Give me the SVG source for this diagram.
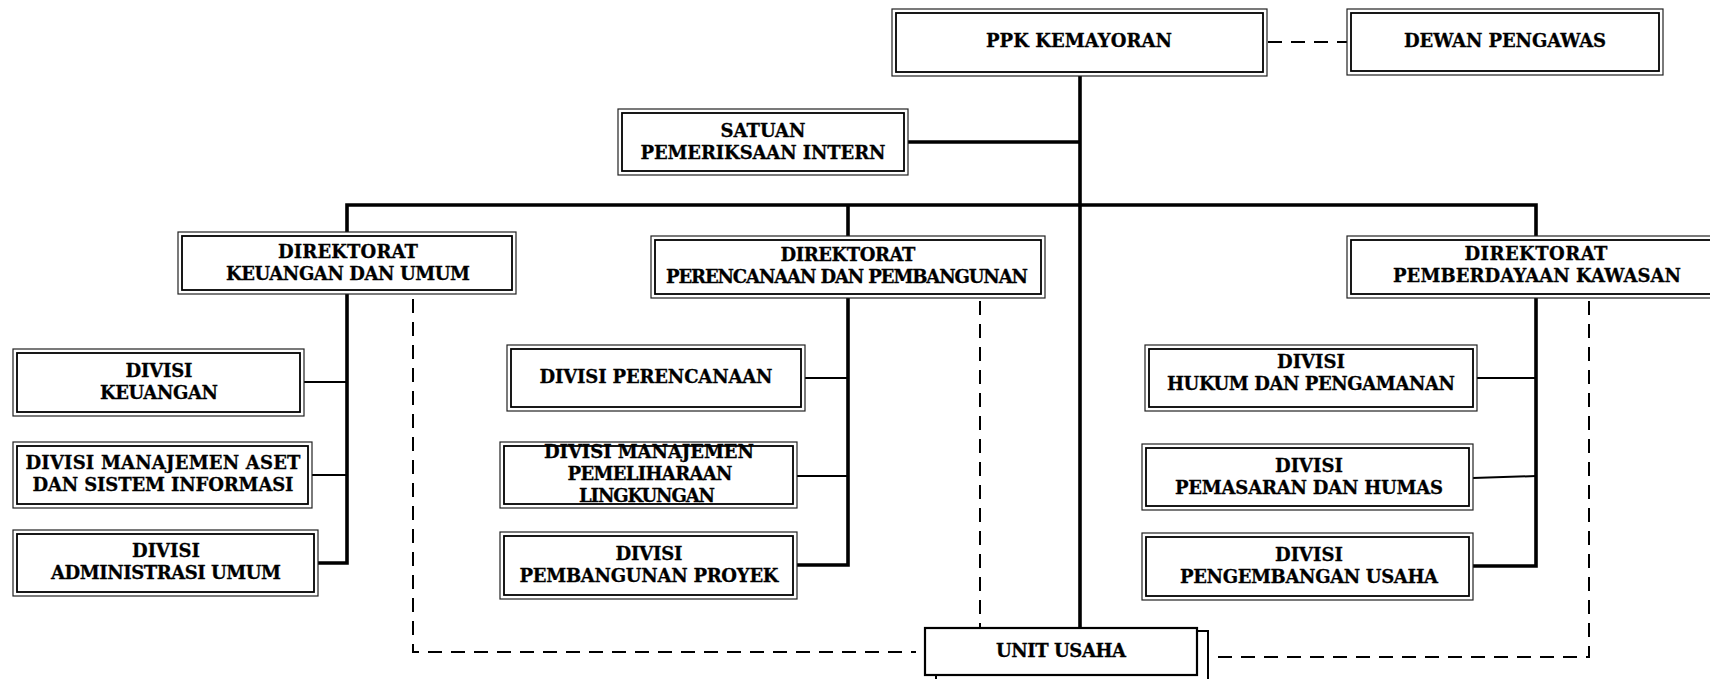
<svg xmlns="http://www.w3.org/2000/svg" width="1710" height="679" viewBox="0 0 1710 679">
<style>
.bg{fill:#fff}
.o{fill:#fff;stroke:#222;stroke-width:1.2}
.i{fill:none;stroke:#000;stroke-width:1.8}
.t{font-family:"DejaVu Serif","Liberation Serif",serif;font-weight:bold;font-size:18px;fill:#000;stroke:#000;stroke-width:0.3;text-anchor:middle}
.thick{stroke:#000;stroke-width:3.6;fill:none}
.thin{stroke:#000;stroke-width:2;fill:none}
.dash{stroke:#000;stroke-width:2;fill:none;stroke-dasharray:14 9}
</style>
<rect class="bg" x="0" y="0" width="1710" height="679"/>
<g id="connectors">
  <line class="thick" x1="1080" y1="76" x2="1080" y2="627"/>
  <line class="dash" x1="1268" y1="42" x2="1347" y2="42"/>
  <line class="thick" x1="908" y1="142" x2="1080" y2="142"/>
  <polyline class="thick" points="347,232 347,205 1536,205 1536,236"/>
  <line class="thick" x1="848" y1="205" x2="848" y2="236"/>
  <polyline class="thick" points="347,294 347,563 318,563"/>
  <line class="thin" x1="304" y1="382" x2="347" y2="382"/>
  <line class="thin" x1="312" y1="475" x2="347" y2="475"/>
  <polyline class="thick" points="848,298 848,565 797,565"/>
  <line class="thin" x1="805" y1="378" x2="848" y2="378"/>
  <line class="thin" x1="797" y1="476" x2="848" y2="476"/>
  <polyline class="thick" points="1536,298 1536,566 1473,566"/>
  <line class="thin" x1="1477" y1="378" x2="1536" y2="378"/>
  <line class="thin" x1="1473" y1="478" x2="1536" y2="476"/>
  <polyline class="dash" points="413,299 413,652 916,652"/>
  <line class="dash" x1="980" y1="301" x2="980" y2="627"/>
  <polyline class="dash" points="1589,301 1589,657 1210,657"/>
</g>
<g id="ppk">
  <rect class="o" x="892" y="9" width="375" height="67"/>
  <rect class="i" x="896" y="13" width="367" height="59"/>
  <text class="t" x="1079" y="47" textLength="186">PPK KEMAYORAN</text>
</g>
<g id="dewan">
  <rect class="o" x="1347" y="9" width="316" height="66"/>
  <rect class="i" x="1351" y="13" width="308" height="58"/>
  <text class="t" x="1505" y="47" textLength="202">DEWAN PENGAWAS</text>
</g>
<g id="satuan">
  <rect class="o" x="618" y="109" width="290" height="66"/>
  <rect class="i" x="622" y="113" width="282" height="58"/>
  <text class="t" x="763" y="137" textLength="85">SATUAN</text>
  <text class="t" x="763" y="159" textLength="245">PEMERIKSAAN INTERN</text>
</g>
<g id="dir-keuangan">
  <rect class="o" x="178" y="232" width="338" height="62"/>
  <rect class="i" x="182" y="236" width="330" height="54"/>
  <text class="t" x="348" y="258" textLength="140">DIREKTORAT</text>
  <text class="t" x="348" y="280" textLength="244">KEUANGAN DAN UMUM</text>
</g>
<g id="dir-perencanaan">
  <rect class="o" x="651" y="236" width="394" height="62"/>
  <rect class="i" x="655" y="240" width="386" height="54"/>
  <text class="t" x="848" y="261" textLength="135">DIREKTORAT</text>
  <text class="t" x="847" y="283" textLength="362">PERENCANAAN DAN PEMBANGUNAN</text>
</g>
<g id="dir-pemberdayaan">
  <rect class="o" x="1347" y="236" width="370" height="62"/>
  <rect class="i" x="1351" y="240" width="362" height="54"/>
  <text class="t" x="1536" y="260" textLength="143">DIREKTORAT</text>
  <text class="t" x="1537" y="282" textLength="288">PEMBERDAYAAN KAWASAN</text>
</g>
<g id="div-keuangan">
  <rect class="o" x="13" y="349" width="291" height="67"/>
  <rect class="i" x="17" y="353" width="283" height="59"/>
  <text class="t" x="159" y="377" textLength="67">DIVISI</text>
  <text class="t" x="159" y="399" textLength="118">KEUANGAN</text>
</g>
<g id="div-aset">
  <rect class="o" x="13" y="442" width="299" height="66"/>
  <rect class="i" x="17" y="446" width="291" height="58"/>
  <text class="t" x="163" y="469" textLength="275">DIVISI MANAJEMEN ASET</text>
  <text class="t" x="163" y="491" textLength="261">DAN SISTEM INFORMASI</text>
</g>
<g id="div-admin">
  <rect class="o" x="13" y="530" width="305" height="66"/>
  <rect class="i" x="17" y="534" width="297" height="58"/>
  <text class="t" x="166" y="557" textLength="68">DIVISI</text>
  <text class="t" x="166" y="579" textLength="230">ADMINISTRASI UMUM</text>
</g>
<g id="div-perencanaan">
  <rect class="o" x="507" y="345" width="298" height="66"/>
  <rect class="i" x="511" y="349" width="290" height="58"/>
  <text class="t" x="656" y="383" textLength="233">DIVISI PERENCANAAN</text>
</g>
<g id="div-pemeliharaan">
  <rect class="o" x="500" y="442" width="297" height="66"/>
  <rect class="i" x="504" y="446" width="289" height="58"/>
  <text class="t" x="649" y="458" textLength="210">DIVISI MANAJEMEN</text>
  <text class="t" x="650" y="480" textLength="165">PEMELIHARAAN</text>
  <text class="t" x="647" y="502" textLength="136">LINGKUNGAN</text>
</g>
<g id="div-pembangunan">
  <rect class="o" x="500" y="532" width="297" height="67"/>
  <rect class="i" x="504" y="536" width="289" height="59"/>
  <text class="t" x="649" y="560" textLength="67">DIVISI</text>
  <text class="t" x="649" y="582" textLength="259">PEMBANGUNAN PROYEK</text>
</g>
<g id="div-hukum">
  <rect class="o" x="1145" y="345" width="332" height="66"/>
  <rect class="i" x="1149" y="349" width="324" height="58"/>
  <text class="t" x="1311" y="368" textLength="68">DIVISI</text>
  <text class="t" x="1311" y="390" textLength="288">HUKUM DAN PENGAMANAN</text>
</g>
<g id="div-pemasaran">
  <rect class="o" x="1142" y="444" width="331" height="66"/>
  <rect class="i" x="1146" y="448" width="323" height="58"/>
  <text class="t" x="1309" y="472" textLength="68">DIVISI</text>
  <text class="t" x="1309" y="494" textLength="268">PEMASARAN DAN HUMAS</text>
</g>
<g id="div-pengembangan">
  <rect class="o" x="1142" y="533" width="331" height="67"/>
  <rect class="i" x="1146" y="537" width="323" height="59"/>
  <text class="t" x="1309" y="561" textLength="68">DIVISI</text>
  <text class="t" x="1309" y="583" textLength="258">PENGEMBANGAN USAHA</text>
</g>
<g id="unit-usaha">
  <rect x="936" y="631" width="272" height="60" fill="#fff" stroke="#000" stroke-width="2"/>
  <rect x="925" y="628" width="272" height="47" fill="#fff" stroke="#000" stroke-width="2.2"/>
  <text class="t" x="1061" y="657" textLength="130">UNIT USAHA</text>
</g>
</svg>
